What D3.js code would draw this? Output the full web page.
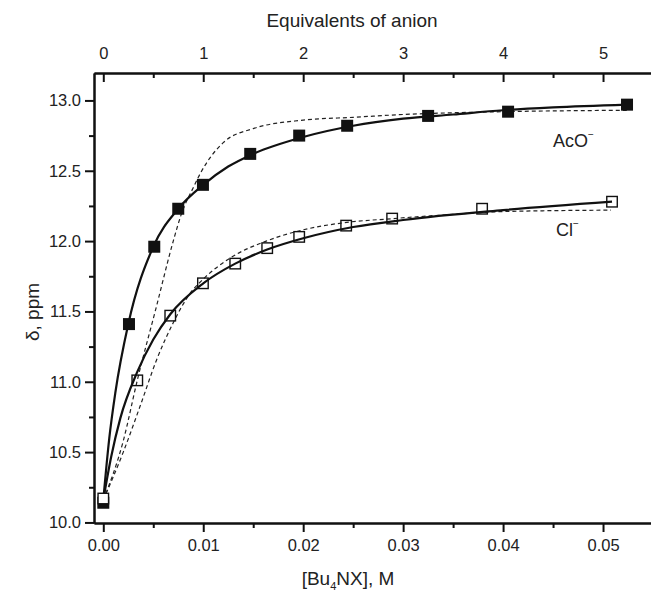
<!DOCTYPE html>
<html><head><meta charset="utf-8">
<script src="https://cdn.jsdelivr.net/npm/d3@7"></script>
<style>
body{margin:0;background:#fff;}
text{font-family:"Liberation Sans",Arial,sans-serif;fill:#222;}
</style></head>
<body><svg id="c" width="651" height="591"></svg>
<script>
// Measured points
const acoX = [0, 0.00257, 0.0051, 0.0075, 0.00997, 0.0147, 0.0196, 0.0244, 0.0325, 0.0405, 0.0524];
const acoY = [10.14, 11.41, 11.96, 12.23, 12.40, 12.62, 12.75, 12.82, 12.89, 12.92, 12.97];
const clX = [0, 0.0034, 0.0067, 0.00997, 0.0132, 0.0164, 0.0196, 0.0243, 0.0289, 0.0379, 0.0509];
const clY = [10.17, 11.01, 11.47, 11.70, 11.84, 11.95, 12.03, 12.11, 12.16, 12.23, 12.28];
// Fit curves
const acoFitX = [0, 0.0006, 0.0012, 0.0025, 0.005, 0.0075, 0.01, 0.0125, 0.015, 0.02, 0.025, 0.03, 0.035, 0.04, 0.045, 0.0524];
const acoFitY = [10.16, 10.6, 10.92, 11.41, 11.96, 12.23, 12.40, 12.53, 12.62, 12.74, 12.82, 12.87, 12.90, 12.93, 12.95, 12.97];
const acoDashX = [0, 0.002, 0.0034, 0.0053, 0.007, 0.0078, 0.009, 0.0097, 0.012, 0.015, 0.02, 0.025, 0.03, 0.04, 0.0524];
const acoDashY = [10.16, 10.58, 11.01, 11.53, 12.0, 12.19, 12.38, 12.48, 12.70, 12.80, 12.86, 12.88, 12.90, 12.92, 12.93];
const clFitX = [0, 0.0008, 0.0017, 0.0034, 0.005, 0.0067, 0.01, 0.0132, 0.0164, 0.02, 0.025, 0.03, 0.04, 0.0509];
const clFitY = [10.16, 10.47, 10.74, 11.07, 11.30, 11.48, 11.70, 11.84, 11.94, 12.02, 12.10, 12.15, 12.22, 12.28];
const clDashX = [0, 0.002, 0.0038, 0.0053, 0.007, 0.0087, 0.01, 0.0127, 0.0163, 0.02, 0.024, 0.029, 0.035, 0.04, 0.0508];
const clDashY = [10.16, 10.5, 10.85, 11.15, 11.42, 11.63, 11.73, 11.88, 12.0, 12.08, 12.13, 12.16, 12.19, 12.21, 12.22];
const xTicks = [0, 0.01, 0.02, 0.03, 0.04, 0.05];
const yTicks = [10.0, 10.5, 11.0, 11.5, 12.0, 12.5, 13.0];
const eqTicks = [0, 1, 2, 3, 4, 5];

const svg = d3.select("#c");
const L = 94, R = 660, T = 73, B = 523;
const x = d3.scaleLinear().domain([-0.00093, 0.0557]).range([L, R]);
const y = d3.scaleLinear().domain([9.996, 13.195]).range([B, T]);
const eq = d3.scaleLinear().domain([-0.093, 5.57]).range([L, R]);
const FS = 16.5;

// axes
const gx = svg.append("g").attr("transform", `translate(0,${B})`)
  .call(d3.axisBottom(x).tickValues(xTicks).tickFormat(d3.format(".2f")).tickSize(9).tickSizeOuter(0).tickPadding(7));
const gxm = svg.append("g").attr("transform", `translate(0,${B})`)
  .call(d3.axisBottom(x).tickValues(xTicks.map(d => d + 0.005)).tickFormat("").tickSize(5).tickSizeOuter(0));
const gy = svg.append("g").attr("transform", `translate(${L},0)`)
  .call(d3.axisLeft(y).tickValues(yTicks).tickFormat(d3.format(".1f")).tickSize(9).tickSizeOuter(0).tickPadding(4));
const gym = svg.append("g").attr("transform", `translate(${L},0)`)
  .call(d3.axisLeft(y).tickValues(yTicks.slice(0, -1).map(d => d + 0.25)).tickFormat("").tickSize(5).tickSizeOuter(0));
const gt = svg.append("g").attr("transform", `translate(0,${T})`)
  .call(d3.axisTop(eq).tickValues(eqTicks).tickFormat(d3.format("d")).tickSize(-9).tickSizeOuter(0).tickPadding(14));
const gtm = svg.append("g").attr("transform", `translate(0,${T})`)
  .call(d3.axisTop(eq).tickValues(eqTicks.map(d => d + 0.5)).tickFormat("").tickSize(-5).tickSizeOuter(0));
[gx, gxm, gy, gym, gt, gtm].forEach(g => {
  g.selectAll(".domain").attr("stroke", "#111").attr("stroke-width", 2);
  g.selectAll(".tick line").attr("stroke", "#111").attr("stroke-width", 2);
  g.selectAll(".tick text").attr("font-size", FS).attr("fill", "#222").attr("font-family", "Liberation Sans, Arial, sans-serif");
});

const clipId = "clipArea";
svg.append("clipPath").attr("id", clipId).append("rect").attr("x", L).attr("y", T).attr("width", R - L).attr("height", B - T);

const line = d3.line().x(d => x(d[0])).y(d => y(d[1])).curve(d3.curveMonotoneX);
const plot = svg.append("g").attr("clip-path", `url(#${clipId})`);
function pts(xs, ys) { return xs.map((v, i) => [v, ys[i]]); }
plot.append("path").attr("d", line(pts(acoDashX, acoDashY))).attr("fill", "none").attr("stroke", "#222").attr("stroke-width", 1.2).attr("stroke-dasharray", "4,3");
plot.append("path").attr("d", line(pts(clDashX, clDashY))).attr("fill", "none").attr("stroke", "#222").attr("stroke-width", 1.2).attr("stroke-dasharray", "4,3");
plot.append("path").attr("d", line(pts(acoFitX, acoFitY))).attr("fill", "none").attr("stroke", "#111").attr("stroke-width", 2.2);
plot.append("path").attr("d", line(pts(clFitX, clFitY))).attr("fill", "none").attr("stroke", "#111").attr("stroke-width", 2.2);

const s = 12;
plot.selectAll("rect.aco").data(pts(acoX, acoY)).join("rect").attr("class", "aco")
  .attr("x", d => x(d[0]) - s / 2).attr("y", d => y(d[1]) - s / 2).attr("width", s).attr("height", s).attr("fill", "#111");
plot.selectAll("rect.cl").data(pts(clX, clY)).join("rect").attr("class", "cl")
  .attr("x", d => x(d[0]) - (s - 1.5) / 2).attr("y", d => y(d[1]) - (s - 1.5) / 2).attr("width", s - 1.5).attr("height", s - 1.5)
  .attr("fill", d => d[0] === 0 ? "#fff" : "none").attr("stroke", "#111").attr("stroke-width", 1.4);

// labels
svg.append("text").attr("x", 352).attr("y", 27).attr("text-anchor", "middle").attr("font-size", 19).text("Equivalents of anion");
const xl = svg.append("text").attr("x", 348).attr("y", 585).attr("text-anchor", "middle").attr("font-size", 19);
xl.append("tspan").text("[Bu");
xl.append("tspan").attr("font-size", 11).attr("dy", 5).text("4");
xl.append("tspan").attr("dy", -5).text("NX], M");
svg.append("text").attr("transform", "translate(39,312) rotate(-90)").attr("text-anchor", "middle").attr("font-size", 19).text("δ, ppm");
const al = svg.append("text").attr("x", 553).attr("y", 147).attr("font-size", 18);
al.append("tspan").text("AcO");
al.append("tspan").attr("font-size", 10).attr("dy", -9).text("−");
const cl = svg.append("text").attr("x", 556).attr("y", 236).attr("font-size", 18);
cl.append("tspan").text("Cl");
cl.append("tspan").attr("font-size", 10).attr("dy", -9).text("−");
</script></body></html>
